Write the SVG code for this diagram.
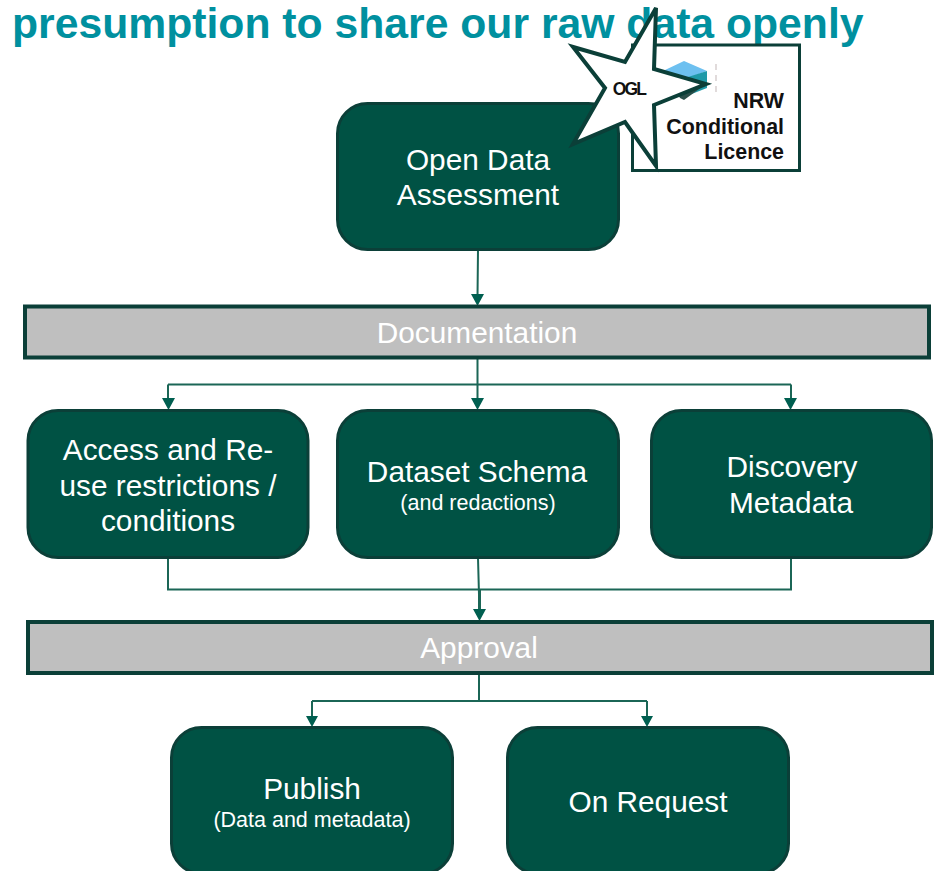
<svg xmlns="http://www.w3.org/2000/svg" width="939" height="871" viewBox="0 0 939 871">
<style>
text{font-family:"Liberation Sans",Arial,sans-serif;text-anchor:middle;fill:#fff}
.box{fill:#005244;stroke:#0b3f38;stroke-width:3}
.bar{fill:#bfbfbf;stroke:#0b3f38;stroke-width:4}
.t{font-size:29.800px}
.s{font-size:21.500px}
.c{fill:none;stroke:#1b6656;stroke-width:2}
.h{fill:#005f50}
.lic{font-weight:700;font-size:21.400px;fill:#111;text-anchor:end}
</style>
<rect width="939" height="871" fill="#fff"/>
<text x="12" y="38" style="font-weight:700;font-size:42.700px;fill:#00909f;text-anchor:start">presumption to share our raw data openly</text>
<g id="connectors">
<path class="c" d="M478 250L477.500 298M477.500 358V402M168 384.500H791M168 384.500V402M791 384.500V402M168 558V589.500H791V558M478 558L479.500 613M479 674V700M312 701H647M312 701V719M647 701V719"/>
<path class="c" style="stroke-width:3" d="M479.500 590V612"/>
<path class="h" d="M471 294H484L477.500 306ZM162 398H175L168.500 410ZM471 398H484L477.500 410ZM784 398H797L790.500 410ZM473 609H486L479.500 621ZM306 716H318L312 727ZM641 716H653L647 727Z"/>
</g>
<g id="open-data"><rect class="box" x="337.500" y="103.500" width="281" height="146" rx="30"/><text class="t" x="478" y="170">Open Data</text><text class="t" x="478" y="205">Assessment</text></g>
<g id="documentation"><rect class="bar" x="25" y="306.500" width="904" height="51"/><text class="t" x="477" y="343">Documentation</text></g>
<g id="access"><rect class="box" x="28" y="410.500" width="280" height="147" rx="30"/><text class="t" x="168" y="460">Access and Re-</text><text class="t" x="168" y="496">use restrictions /</text><text class="t" x="168" y="531">conditions</text></g>
<g id="schema"><rect class="box" x="337.500" y="410.500" width="281" height="147" rx="30"/><text class="t" x="477" y="482">Dataset Schema</text><text class="s" x="478" y="510">(and redactions)</text></g>
<g id="discovery"><rect class="box" x="651.500" y="410.500" width="280" height="147" rx="30"/><text class="t" x="792" y="477">Discovery</text><text class="t" x="791" y="513">Metadata</text></g>
<g id="approval"><rect class="bar" x="28" y="622" width="904" height="51"/><text class="t" x="479" y="658">Approval</text></g>
<g id="publish"><rect class="box" x="171.500" y="727.500" width="281" height="146" rx="30"/><text class="t" x="312" y="799">Publish</text><text class="s" x="312" y="827">(Data and metadata)</text></g>
<g id="on-request"><rect class="box" x="507.500" y="727.500" width="281" height="146" rx="30"/><text class="t" x="648" y="812">On Request</text></g>
<g id="licence">
<rect x="632.500" y="45" width="167" height="125.500" fill="#fff" stroke="#0b3f38" stroke-width="3"/>
<path d="M665 70L684 61L707 71L688 78L672 84Z" fill="#6dc0f0"/>
<path d="M688 77L707 71V88L684 97L675 88Z" fill="#1f9aa8"/>
<path d="M675 90L706 84L684 100L680 98Z" fill="#2a4f4a"/>
<path d="M716 64V97" stroke="#d8d0d0" stroke-width="1.500" stroke-dasharray="6 5" fill="none"/>
<text class="lic" x="784" y="108">NRW</text><text class="lic" x="784" y="134">Conditional</text><text class="lic" x="784" y="159">Licence</text>
</g>
<g id="ogl">
<path d="M656 8L654 69L706 84L654 105L656 166L625 122L573 144L605 88L573 47L625 62Z" fill="#fff" stroke="#0b3f38" stroke-width="4"/>
<text x="629" y="95" style="font-weight:700;font-size:17.500px;fill:#111;letter-spacing:-1.800px">OGL</text>
</g>
</svg>
